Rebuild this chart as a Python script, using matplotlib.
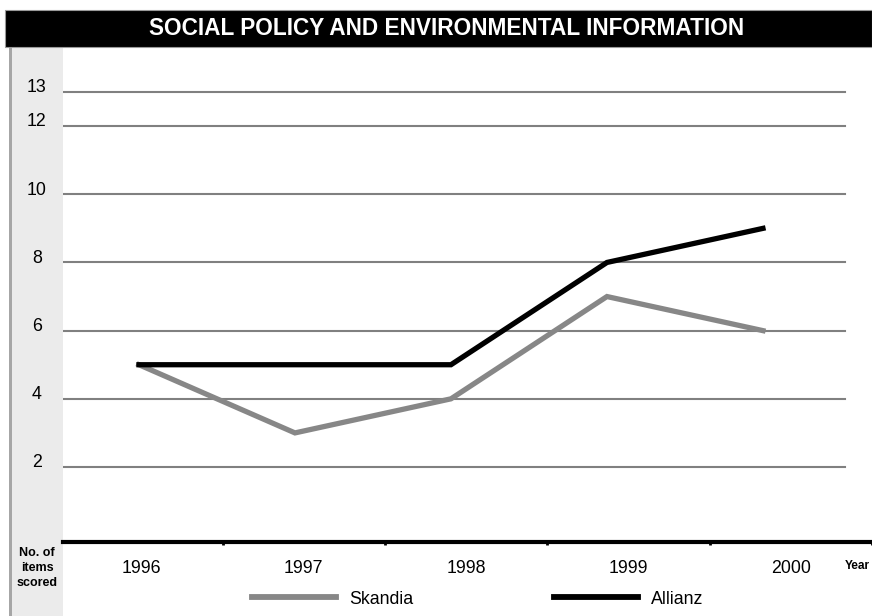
import matplotlib
matplotlib.use("Agg")
import matplotlib.pyplot as plt
from matplotlib.patches import Rectangle
from matplotlib.lines import Line2D
from matplotlib.transforms import offset_copy

plt.rcParams['font.family'] = ['Liberation Sans', 'DejaVu Sans']

# ---- data ----
years = ["1996", "1997", "1998", "1999", "2000"]
skandia = [5, 3, 4, 7, 6]
allianz = [5, 5, 5, 8, 9]
y_ticks = [2, 4, 6, 8, 10, 12, 13]
title = "SOCIAL POLICY AND ENVIRONMENTAL INFORMATION"

W, H = 872, 616
fig = plt.figure(figsize=(W / 100, H / 100), dpi=100)
fig.patch.set_facecolor("white")


def fx(px):
    return px / W


def fy(py):
    return 1 - py / H


# left grey panel + border
fig.add_artist(Rectangle((fx(12), 0), fx(63) - fx(12), fy(47), transform=fig.transFigure,
                         facecolor="#ebebeb", edgecolor="none", zorder=0))
fig.add_artist(Rectangle((fx(9), 0), fx(3), fy(47), transform=fig.transFigure,
                         facecolor="#a6a6a6", edgecolor="none", zorder=0))
# title bar
fig.add_artist(Rectangle((fx(5), fy(47)), 1 - fx(5), fy(10) - fy(47), transform=fig.transFigure,
                         facecolor="black", edgecolor="#9a9a9a", linewidth=0.8, zorder=1))
fig.text(fx(447), fy(28.5), title, color="white", fontsize=16.3, fontweight="bold",
         ha="center", va="center", zorder=2)

# main axes
ax = fig.add_axes([fx(63), fy(542), 1 - fx(63), fy(47) - fy(542)])
ax.set_facecolor("white")
x = list(range(len(years)))
ax.set_xlim(-0.487, 4.699)
ax.set_ylim(-0.2, 14.32)

for v in y_ticks:
    ax.axhline(v, xmin=0, xmax=(845 - 63) / (872 - 63), color="#808080", linewidth=1.5, zorder=1)

ax.plot(x, skandia, color="#878787", linewidth=3.8, solid_joinstyle="miter", zorder=3, label="Skandia")
ax.plot(x, allianz, color="black", linewidth=3.8, solid_joinstyle="miter", zorder=4, label="Allianz")

for s in ["top", "right", "left"]:
    ax.spines[s].set_visible(False)
ax.spines["bottom"].set_linewidth(3)
ax.spines["bottom"].set_color("black")
ax.set_xticks([])
ax.set_yticks([])

# y labels
tr = offset_copy(ax.get_yaxis_transform(), fig=fig, x=0, y=3.0, units="points")
for v in y_ticks:
    ax.text((37 - 63) / (872 - 63), v, str(v), transform=tr, ha="center", va="center",
            fontsize=12.8, color="black")

# category labels axis
ax2 = ax.twiny()
ax2.set_xlim(-0.483, 4.465)
ax2.set_xticks(x)
ax2.set_xticklabels(years, fontsize=12.8)
ax2.xaxis.set_ticks_position("bottom")
ax2.xaxis.set_label_position("bottom")
ax2.tick_params(axis="x", which="major", length=0, pad=13)
ax2.set_xticks([i + 0.5 for i in x], minor=True)
ax2.tick_params(axis="x", which="minor", length=2.5, width=2, direction="out", color="black")
for s in ax2.spines.values():
    s.set_visible(False)

# axis titles
fig.text(fx(37), fy(568), "No. of\nitems\nscored", fontsize=9, fontweight="bold",
         ha="center", va="center", linespacing=1.38)
fig.text(fx(870), fy(566), "Year", fontsize=8.6, fontweight="bold", ha="right", va="center")

# legend
handles = [Line2D([], [], color="#878787", linewidth=4.2),
           Line2D([], [], color="black", linewidth=4.2)]
fig.legend(handles, ["Skandia", "Allianz"], loc="center left",
           bbox_to_anchor=(fx(252), fy(599)), ncol=2, frameon=False, fontsize=12.8,
           handlelength=4.7, handletextpad=0.75, columnspacing=7.95,
           borderaxespad=0, borderpad=0)

fig.savefig("out.png", dpi=100)
